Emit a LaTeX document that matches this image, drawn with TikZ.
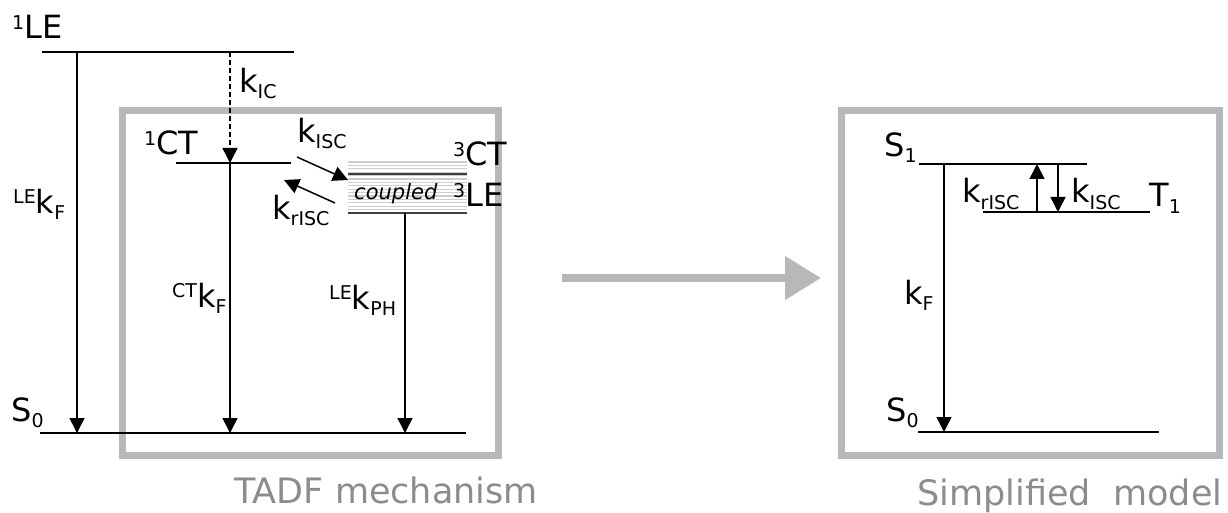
\documentclass[tikz,border=0pt]{standalone}
\usepackage{fontspec}
\setmainfont{DejaVu Sans}
\usetikzlibrary{arrows.meta}
\definecolor{framegray}{HTML}{B8B8B8}
\definecolor{capgray}{HTML}{8C8C8C}
\definecolor{stripegray}{HTML}{CDCDCD}
% small raised / lowered index text
\newcommand\suptx[1]{\raisebox{9.5pt}{\fontsize{19}{19}\selectfont #1}}
\newcommand\subtx[1]{\raisebox{-6pt}{\fontsize{19}{19}\selectfont #1}}
\tikzset{
  lbl/.style={inner sep=0pt, anchor=base west, font=\fontsize{32}{38}\selectfont},
  paneltitle/.style={inner sep=0pt, anchor=base, text=capgray, font=\fontsize{35}{40}\selectfont},
  level/.style={line width=1.5pt, black},
  trans/.style={line width=1.5pt, -{Triangle[length=15pt,width=15pt]}},
  frame/.style={draw=framegray, line width=7pt},
}
\begin{document}
\begin{tikzpicture}[x=1pt,y=-1pt]
\useasboundingbox (0,0) rectangle (1228,513);

% ---------------- TADF mechanism ----------------
\draw[frame] (122,111) rectangle (498,455);

% coupled 3CT / 3LE manifold
\foreach \yy in {162,165.4,...,212} \draw[stripegray, line width=1.3pt] (348,\yy) -- (467,\yy);
\coordinate (ct3-l) at (348,174); \coordinate (ct3-r) at (467,174);
\coordinate (le3-l) at (348,213); \coordinate (le3-r) at (467,213);
\draw[level, line width=2pt, black!75] (ct3-l) -- (ct3-r);
\draw[level, line width=2pt, black!75] (le3-l) -- (le3-r);
\node[inner sep=0pt, anchor=base west, font=\fontsize{21}{24}\selectfont\itshape] (cpl) at (354,200) {coupled};

% levels
\coordinate (le1-l) at (42,52);  \coordinate (le1-r) at (294,52);
\coordinate (ct1-l) at (176,163); \coordinate (ct1-r) at (291,163);
\coordinate (s0-l) at (40,433);  \coordinate (s0-r) at (466,433);
\draw[level] (le1-l) -- (le1-r);
\draw[level] (ct1-l) -- (ct1-r);
\draw[level] (s0-l) -- (s0-r);

% transitions
\coordinate (a1) at (77,52);   \coordinate (a1e) at (77,433);
\coordinate (a2) at (230,52);  \coordinate (a2e) at (230,163);
\coordinate (a3) at (230,163); \coordinate (a3e) at (230,433);
\coordinate (a4) at (405,213); \coordinate (a4e) at (405,433);
\coordinate (isc-s) at (297,157); \coordinate (isc-e) at (348,180);
\coordinate (risc-s) at (335,203); \coordinate (risc-e) at (284,180);
\draw[trans] (a1) -- (a1e);
\draw[trans, dash pattern=on 5pt off 3pt] (a2) -- (a2e);
\draw[trans] (a3) -- (a3e);
\draw[trans] (a4) -- (a4e);
\draw[trans] (isc-s) -- (isc-e);
\draw[trans] (risc-s) -- (risc-e);

% labels
\node[lbl] (tle1) at (12,39) {\suptx{1}LE};
\node[lbl] (tlekf) at (13,213) {\suptx{LE}k\subtx{F}};
\node[lbl] (ts0a) at (11,421) {S\subtx{0}};
\node[lbl] (tkic) at (239,93) {k\subtx{IC}};
\node[lbl] (tct1) at (144,155) {\suptx{1}CT};
\node[lbl] (tctkf) at (172,307) {\suptx{CT}k\subtx{F}};
\node[lbl] (tkisc) at (297,143) {k\subtx{ISC}};
\node[lbl] (tkrisc) at (272,219) {k\subtx{rISC}};
\node[lbl] (tct3) at (453,166) {\suptx{3}CT};
\node[lbl] (tle3) at (453,207) {\suptx{3}LE};
\node[lbl] (tlekph) at (329,309) {\suptx{LE}k\subtx{PH}};
\node[paneltitle] (tadf) at (386,503) {TADF mechanism};

% ---------------- arrow between panels ----------------
\coordinate (big-s) at (562,278); \coordinate (big-e) at (821,278);
\draw[framegray, line width=8pt, -{Triangle[length=36pt,width=42pt]}] (big-s) -- (big-e);

% ---------------- Simplified model ----------------
\draw[frame] (841,111) rectangle (1219,455);
\coordinate (s1-l) at (919,164); \coordinate (s1-r) at (1087,164);
\coordinate (t1-l) at (983,212); \coordinate (t1-r) at (1150,212);
\coordinate (s0b-l) at (918,432); \coordinate (s0b-r) at (1159,432);
\draw[level] (s1-l) -- (s1-r);
\draw[level] (t1-l) -- (t1-r);
\draw[level] (s0b-l) -- (s0b-r);

\coordinate (b1) at (944,164);  \coordinate (b1e) at (944,432);
\coordinate (up-s) at (1037,212); \coordinate (up-e) at (1037,164);
\coordinate (dn-s) at (1058,164); \coordinate (dn-e) at (1058,212);
\draw[trans] (b1) -- (b1e);
\draw[trans] (up-s) -- (up-e);
\draw[trans] (dn-s) -- (dn-e);

\node[lbl] (ts1) at (884,157) {S\subtx{1}};
\node[lbl] (tt1) at (1149,207) {T\subtx{1}};
\node[lbl] (tkf) at (904,304) {k\subtx{F}};
\node[lbl] (ts0b) at (886,421) {S\subtx{0}};
\node[lbl] (tkrisc2) at (962,203) {k\subtx{rISC}};
\node[lbl] (tkisc2) at (1071,203) {k\subtx{ISC}};
\node[paneltitle] (simp) at (1070,505) {Simplified\ \ model};
\end{tikzpicture}
\end{document}
